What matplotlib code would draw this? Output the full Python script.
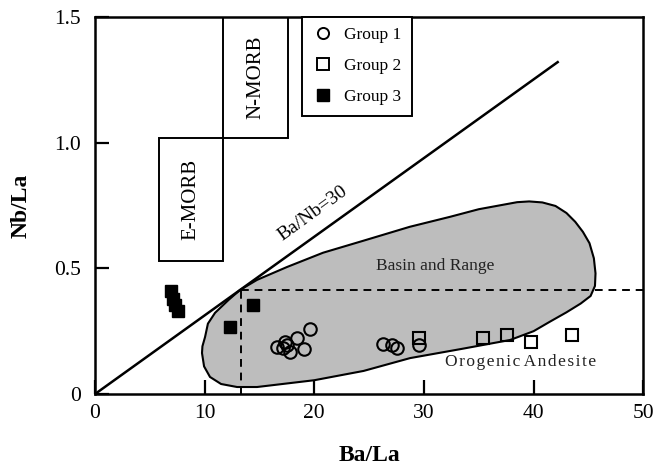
import matplotlib.pyplot as plt
from matplotlib.patches import Polygon, Rectangle
from matplotlib.lines import Line2D

plt.rcParams['font.family'] = ['Liberation Serif', 'DejaVu Serif']

# Group data (Ba/La, Nb/La)
g1_x = [16.6, 17.15, 17.3, 17.5, 17.8, 18.4, 19.07, 19.6, 26.3, 27.1, 27.55, 29.56]
g1_y = [0.187, 0.183, 0.207, 0.195, 0.167, 0.223, 0.179, 0.259, 0.199, 0.195, 0.183, 0.195]
g2_x = [29.56, 35.4, 37.6, 39.8, 43.5]
g2_y = [0.223, 0.223, 0.235, 0.207, 0.235]
g3_x = [6.93, 7.12, 7.3, 7.57, 12.3, 14.4]
g3_y = [0.41, 0.378, 0.355, 0.33, 0.267, 0.355]

# Basin and Range field outline
field_x = [13.23, 12.2, 10.95, 10.3, 10.04, 9.8, 9.76, 9.95, 10.49, 11.5, 12.96, 14.78,
           20.0, 24.5, 28.74, 33.5, 37.86, 40.0, 41.5, 43.0, 44.3, 45.2, 45.6, 45.65,
           45.5, 45.1, 44.5, 43.8, 43.0, 42.0, 40.8, 39.6, 38.5, 35.0, 32.4, 28.7, 24.5,
           20.8, 17.5, 14.78]
field_y = [0.414, 0.375, 0.323, 0.28, 0.227, 0.19, 0.163, 0.11, 0.068, 0.04, 0.028, 0.028,
           0.055, 0.092, 0.143, 0.18, 0.215, 0.25, 0.288, 0.325, 0.36, 0.39, 0.43, 0.48,
           0.54, 0.6, 0.645, 0.685, 0.72, 0.748, 0.762, 0.766, 0.763, 0.735, 0.705, 0.665,
           0.61, 0.562, 0.505, 0.454]

line_x = [0, 42.2]
line_y = [0, 1.32]

fig = plt.figure(figsize=(6.55, 4.68), dpi=100)
ax = fig.add_axes([0.145, 0.158, 0.837, 0.806])

ax.add_patch(Polygon(list(zip(field_x, field_y)), closed=True, facecolor='#bdbdbd',
                     edgecolor='black', linewidth=1.5, zorder=1))

ax.plot(line_x, line_y, color='black', linewidth=1.8, zorder=2)
ax.plot([13.3, 13.3], [0, 0.414], color='black', linestyle=(0, (4, 3)), linewidth=1.4, zorder=2)
ax.plot([13.3, 50], [0.414, 0.414], color='black', linestyle=(0, (4, 3)), linewidth=1.4, zorder=2)

# MORB boxes
ax.add_patch(Rectangle((5.8, 0.53), 5.9, 0.49, fill=False, edgecolor='black', linewidth=1.4))
ax.add_patch(Rectangle((11.7, 1.02), 5.9, 0.48, fill=False, edgecolor='black', linewidth=1.4))
ax.text(8.75, 0.775, 'E-MORB', rotation=90, ha='center', va='center', fontsize=15)
ax.text(14.65, 1.26, 'N-MORB', rotation=90, ha='center', va='center', fontsize=15)
ax.text(19.9, 0.72, 'Ba/Nb=30', rotation=36, ha='center', va='center', fontsize=14)
ax.text(31.0, 0.51, 'Basin and Range', ha='center', va='center', fontsize=12.5, color='#222222')
ax.text(38.8, 0.127, 'O r o g e n i c   A n d e s i t e'.replace(' ', '\u200a').replace('\u200a\u200a\u200a', ' '),
        ha='center', va='center', fontsize=12.5, color='#222222')

ax.plot(g1_x, g1_y, 'o', markersize=9, markerfacecolor='none', markeredgecolor='black',
        markeredgewidth=1.5, zorder=3)
ax.plot(g2_x, g2_y, 's', markersize=9, markerfacecolor='none', markeredgecolor='black',
        markeredgewidth=1.5, zorder=3)
ax.plot(g3_x, g3_y, 's', markersize=9, color='black', zorder=3)

handles = [
    Line2D([], [], marker='o', linestyle='none', markersize=8, markerfacecolor='none',
           markeredgecolor='black', markeredgewidth=1.4),
    Line2D([], [], marker='s', linestyle='none', markersize=8, markerfacecolor='none',
           markeredgecolor='black', markeredgewidth=1.4),
    Line2D([], [], marker='s', linestyle='none', markersize=8, color='black'),
]
leg = ax.legend(handles, ['Group 1', 'Group 2', 'Group 3'], loc='upper left',
                bbox_to_anchor=(18.9, 1.5), bbox_transform=ax.transData, borderaxespad=0,
                fancybox=False, edgecolor='black', framealpha=1, fontsize=12.5,
                handletextpad=0.6, labelspacing=0.85, borderpad=0.6, handlelength=1.2)
leg.get_frame().set_linewidth(1.4)

ax.set_xlim(0, 50)
ax.set_ylim(0, 1.5)
ax.set_xticks([0, 10, 20, 30, 40, 50])
ax.set_xticklabels(['0', '10', '20', '30', '40', '50'])
ax.set_yticks([0, 0.5, 1.0, 1.5])
ax.set_yticklabels(['0', '0.5', '1.0', '1.5'])
ax.tick_params(direction='in', length=10, width=1.6, labelsize=15.5, colors='black')
ax.tick_params(axis='x', pad=7)
ax.tick_params(axis='y', pad=10)
for s in ax.spines.values():
    s.set_linewidth(1.8)

ax.set_xlabel('Ba/La', fontsize=17, fontweight='bold', labelpad=16)
ax.set_ylabel('Nb/La', fontsize=17, fontweight='bold', labelpad=16)

fig.savefig('out.png', dpi=100)
